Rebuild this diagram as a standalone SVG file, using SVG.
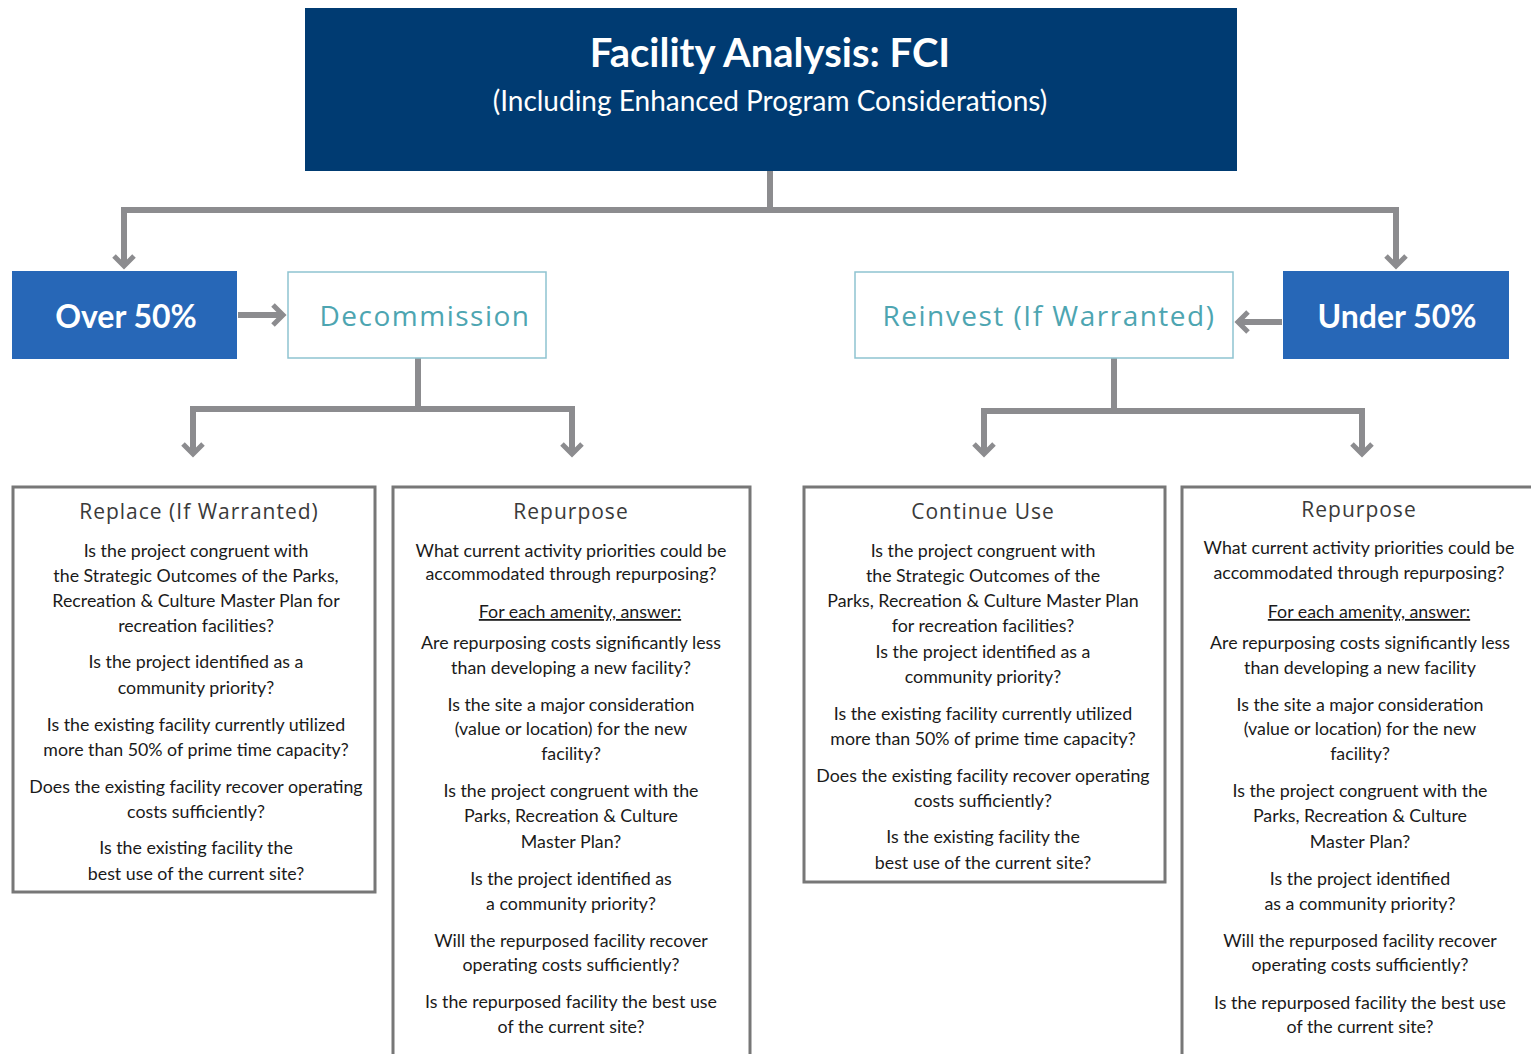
<svg xmlns="http://www.w3.org/2000/svg" width="1531" height="1054" viewBox="0 0 1531 1054">
<defs>
<marker id="arr" viewBox="0 0 24 24" refX="14" refY="12" markerWidth="24" markerHeight="24" markerUnits="userSpaceOnUse" orient="auto">
<path d="M4,2 L14,12 L4,22" fill="none" stroke="#8c8c8f" stroke-width="5" stroke-linejoin="miter"/>
</marker>
<style>
.con{fill:none;stroke:#8c8c8f;stroke-width:6}
.dark{fill:#003b72}
.blue{fill:#2767b7}
.out{fill:#fff;stroke:#8ec3d1;stroke-width:1.5}
.qb{fill:#fff;stroke:#777;stroke-width:3}
.t1{font-family:"Lato","Liberation Sans",sans-serif;font-weight:bold;fill:#fff;text-anchor:middle}
.t2{font-family:"Lato","Liberation Sans",sans-serif;fill:#fff;text-anchor:middle}
.tw{font-family:"Open Sans","Liberation Sans",sans-serif;fill:#4da5b1;text-anchor:middle;font-size:28px;letter-spacing:1.5px}
.hd{font-family:"Open Sans","Liberation Sans",sans-serif;fill:#3a3a3a;text-anchor:middle;font-size:21px;letter-spacing:1px}
.q{font-family:"Lato","Liberation Sans",sans-serif;fill:#1a1a1a;text-anchor:middle;font-size:17.8px}
.u{text-decoration:underline}
</style>
</defs>

<g id="connectors">
<path class="con" d="M770,171 V210 M124,210 H1396"/>
<path class="con" d="M124,207 V266" marker-end="url(#arr)"/>
<path class="con" d="M1396,207 V266" marker-end="url(#arr)"/>
<path class="con" d="M238,315 H283" marker-end="url(#arr)"/>
<path class="con" d="M1282,322 H1238" marker-end="url(#arr)"/>
<path class="con" d="M418,358 V409 M190,409 H575"/>
<path class="con" d="M193,406 V454" marker-end="url(#arr)"/>
<path class="con" d="M572,406 V454" marker-end="url(#arr)"/>
<path class="con" d="M1114,358 V411 M981,411 H1365"/>
<path class="con" d="M984,408 V454" marker-end="url(#arr)"/>
<path class="con" d="M1362,408 V454" marker-end="url(#arr)"/>
</g>

<g id="title">
<rect class="dark" x="305" y="8" width="932" height="163"/>
<text class="t1" x="770" y="67" font-size="40">Facility Analysis: FCI</text>
<text class="t2" x="770" y="111" font-size="28">(Including Enhanced Program Considerations)</text>
</g>

<g id="over50">
<rect class="blue" x="12" y="271" width="225" height="88"/>
<text class="t1" x="126" y="328" font-size="32">Over 50%</text>
</g>

<g id="decommission">
<rect class="out" x="288" y="272" width="258" height="86"/>
<text class="tw" x="425" y="326">Decommission</text>
</g>

<g id="reinvest">
<rect class="out" x="855" y="272" width="378" height="86"/>
<text class="tw" x="1049" y="326">Reinvest (If Warranted)</text>
</g>

<g id="under50">
<rect class="blue" x="1283" y="271" width="226" height="88"/>
<text class="t1" x="1397" y="328" font-size="32">Under 50%</text>
</g>

<g id="replace">
<rect class="qb" x="13" y="487" width="362" height="405"/>
<text class="hd" x="199" y="519">Replace (If Warranted)</text>
<text class="q"><tspan x="196" y="557">Is the project congruent with</tspan><tspan x="196" y="582">the Strategic Outcomes of the Parks,</tspan><tspan x="196" y="607">Recreation &amp; Culture Master Plan for</tspan><tspan x="196" y="632">recreation facilities?</tspan><tspan x="196" y="668">Is the project identified as a</tspan><tspan x="196" y="694">community priority?</tspan><tspan x="196" y="731">Is the existing facility currently utilized</tspan><tspan x="196" y="756">more than 50% of prime time capacity?</tspan><tspan x="196" y="793">Does the existing facility recover operating</tspan><tspan x="196" y="818">costs sufficiently?</tspan><tspan x="196" y="854">Is the existing facility the</tspan><tspan x="196" y="880">best use of the current site?</tspan></text>
</g>

<g id="repurpose1">
<rect class="qb" x="393" y="487" width="357" height="580"/>
<text class="hd" x="571" y="519">Repurpose</text>
<text class="q"><tspan x="571" y="557">What current activity priorities could be</tspan><tspan x="571" y="580">accommodated through repurposing?</tspan><tspan x="580" y="618" class="u">For each amenity, answer:</tspan><tspan x="571" y="649">Are repurposing costs significantly less</tspan><tspan x="571" y="674">than developing a new facility?</tspan><tspan x="571" y="711">Is the site a major consideration</tspan><tspan x="571" y="735">(value or location) for the new</tspan><tspan x="571" y="760">facility?</tspan><tspan x="571" y="797">Is the project congruent with the</tspan><tspan x="571" y="822">Parks, Recreation &amp; Culture</tspan><tspan x="571" y="848">Master Plan?</tspan><tspan x="571" y="885">Is the project identified as</tspan><tspan x="571" y="910">a community priority?</tspan><tspan x="571" y="947">Will the repurposed facility recover</tspan><tspan x="571" y="971">operating costs sufficiently?</tspan><tspan x="571" y="1008">Is the repurposed facility the best use</tspan><tspan x="571" y="1033">of the current site?</tspan></text>
</g>

<g id="continue">
<rect class="qb" x="804" y="487" width="361" height="395"/>
<text class="hd" x="983" y="519">Continue Use</text>
<text class="q"><tspan x="983" y="557">Is the project congruent with</tspan><tspan x="983" y="582">the Strategic Outcomes of the</tspan><tspan x="983" y="607">Parks, Recreation &amp; Culture Master Plan</tspan><tspan x="983" y="632">for recreation facilities?</tspan><tspan x="983" y="658">Is the project identified as a</tspan><tspan x="983" y="683">community priority?</tspan><tspan x="983" y="720">Is the existing facility currently utilized</tspan><tspan x="983" y="745">more than 50% of prime time capacity?</tspan><tspan x="983" y="782">Does the existing facility recover operating</tspan><tspan x="983" y="807">costs sufficiently?</tspan><tspan x="983" y="843">Is the existing facility the</tspan><tspan x="983" y="869">best use of the current site?</tspan></text>
</g>

<g id="repurpose2">
<rect class="qb" x="1182" y="487" width="360" height="580"/>
<text class="hd" x="1359" y="517">Repurpose</text>
<text class="q"><tspan x="1359" y="554">What current activity priorities could be</tspan><tspan x="1359" y="579">accommodated through repurposing?</tspan><tspan x="1369" y="618" class="u">For each amenity, answer:</tspan><tspan x="1360" y="649">Are repurposing costs significantly less</tspan><tspan x="1360" y="674">than developing a new facility</tspan><tspan x="1360" y="711">Is the site a major consideration</tspan><tspan x="1360" y="735">(value or location) for the new</tspan><tspan x="1360" y="760">facility?</tspan><tspan x="1360" y="797">Is the project congruent with the</tspan><tspan x="1360" y="822">Parks, Recreation &amp; Culture</tspan><tspan x="1360" y="848">Master Plan?</tspan><tspan x="1360" y="885">Is the project identified</tspan><tspan x="1360" y="910">as a community priority?</tspan><tspan x="1360" y="947">Will the repurposed facility recover</tspan><tspan x="1360" y="971">operating costs sufficiently?</tspan><tspan x="1360" y="1009">Is the repurposed facility the best use</tspan><tspan x="1360" y="1033">of the current site?</tspan></text>
</g>
</svg>
